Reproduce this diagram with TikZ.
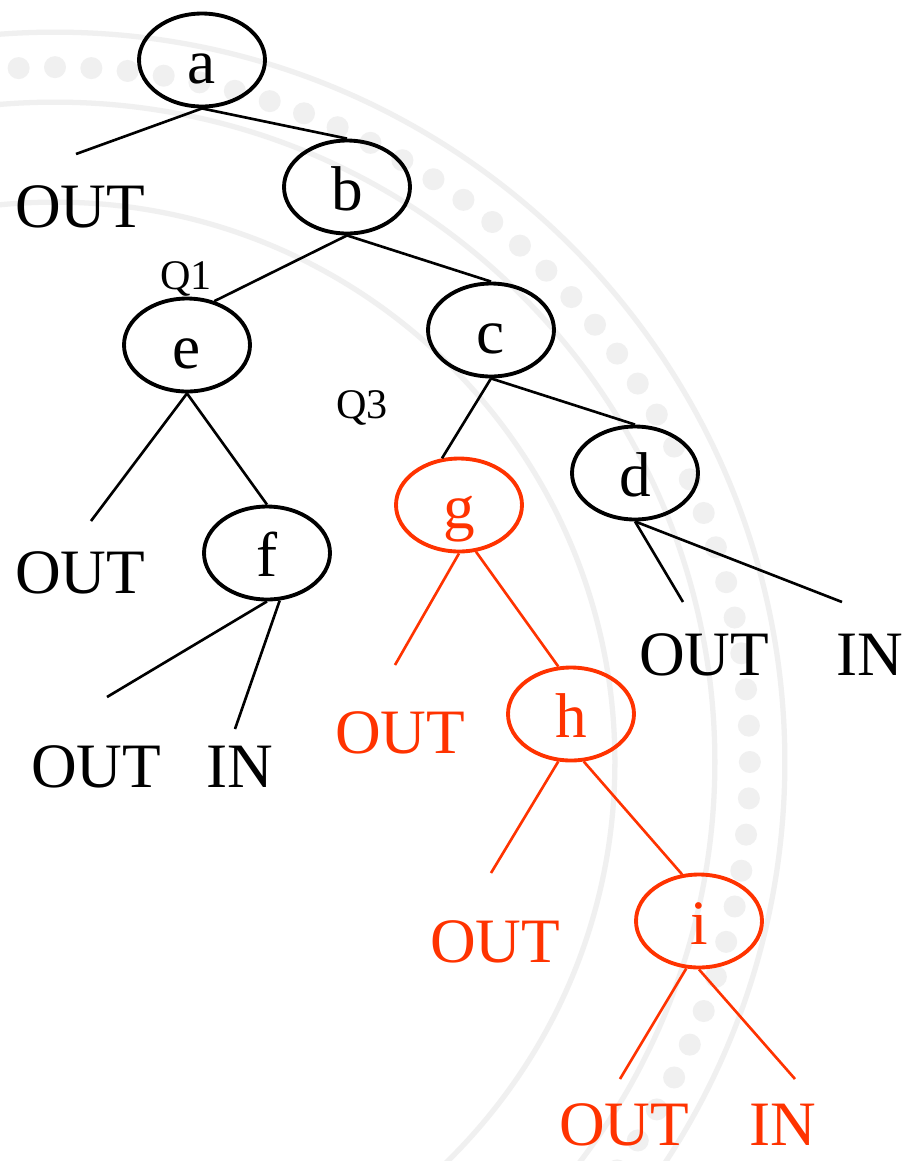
\documentclass[tikz,border=0pt]{standalone}
\usepackage{fontspec}
\setmainfont{Liberation Serif}
\usetikzlibrary{shapes.geometric}
\definecolor{hotred}{RGB}{255,51,0}
\definecolor{sealgray}{RGB}{240,240,240}
\tikzset{vertex/.style={ellipse, draw, line width=2.2pt, minimum width=2.52cm, minimum height=1.86cm,
		inner sep=0pt, font=\fontsize{36}{40}\selectfont, text height=29pt, text depth=2pt},
	leaf/.style={anchor=base, inner sep=0pt, font=\fontsize{36}{40}\selectfont},
	qlabel/.style={anchor=base, inner sep=0pt, font=\fontsize{24}{28}\selectfont},
	branch/.style={line width=1.5pt},
	hot/.style={draw=hotred, text=hotred},
	hotleaf/.style={text=hotred}}

\begin{document}
\begin{tikzpicture}[x=0.02cm, y=-0.02cm]
			\useasboundingbox (0,0) rectangle (907,1161);
			\fill[white] (0,0) rectangle (907,1161);
			% faded seal in the background
			\begin{scope}
				\clip (0,0) rectangle (907,1161);
				\begin{scope}[shift={(55,762)}]
					\draw[sealgray, line width=3pt] (0,0) circle (14.6cm);
					\draw[sealgray, line width=3pt] (0,0) circle (13.2cm);
					\draw[sealgray, line width=3pt] (0,0) circle (11.2cm);
					\foreach \t in {0,3,...,357} \fill[sealgray] (\t:13.9cm) circle (0.22cm);
				\end{scope}
			\end{scope}
			% tree nodes
			\node[vertex] (a) at (202,60) {a};
			\node[vertex] (b) at (347,187) {b};
			\node[vertex] (e) at (187,345) {e};
			\node[vertex] (c) at (491,330) {c};
			\node[vertex] (d) at (635,473) {d};
			\node[vertex] (f) at (267,553) {f};
			\node[vertex,hot] (g) at (459,505) {g};
			\node[vertex,hot] (h) at (571,714) {h};
			\node[vertex,hot] (i) at (699,921) {i};
			\node[qlabel] (q1) at (186,289) {Q1};
			\node[qlabel] (q3) at (362,418) {Q3};
			% leaves
			\node[leaf] (outA) at (80,227) {OUT};
			\node[leaf] (outE) at (80,593) {OUT};
			\node[leaf] (outF) at (96,787) {OUT};
			\node[leaf] (inF) at (240,787) {IN};
			\node[leaf] (outD) at (704,675) {OUT};
			\node[leaf] (inD) at (870,675) {IN};
			\node[leaf,hotleaf] (outG) at (400,753) {OUT};
			\node[leaf,hotleaf] (outH) at (495,962) {OUT};
			\node[leaf,hotleaf] (outI) at (624,1145) {OUT};
			\node[leaf,hotleaf] (inI) at (783,1145) {IN};
			% loose ends of the leaf branches
			\coordinate (endA) at (76,154);
			\coordinate (endE) at (91,521);
			\coordinate (endF1) at (107,697);
			\coordinate (endF2) at (235,729);
			\coordinate (endD1) at (683,602);
			\coordinate (endD2) at (842,602);
			\coordinate (endG) at (395,665);
			\coordinate (endH) at (491,873);
			\coordinate (endI1) at (620,1079);
			\coordinate (endI2) at (795,1079);
			% branches
			\draw[branch] (a.south) -- (endA);
			\draw[branch] (a.south) -- (b.north);
			\draw[branch] (b.south) -- (e.58);
			\draw[branch] (b.south) -- (c.north);
			\draw[branch] (e.south) -- (endE);
			\draw[branch] (e.south) -- (f.north);
			\draw[branch] (c.south) -- (g.110);
			\draw[branch] (c.south) -- (d.north);
			\draw[branch] (f.south) -- (endF1);
			\draw[branch] (f.-75) -- (endF2);
			\draw[branch] (d.south) -- (endD1);
			\draw[branch] (d.south) -- (endD2);
			% red path
			\draw[branch,hotred] (g.south) -- (endG);
			\draw[branch,hotred] (g.-70) -- (h.105);
			\draw[branch,hotred] (h.-105) -- (endH);
			\draw[branch,hotred] (h.-75) -- (i.110);
			\draw[branch,hotred] (i.-105) -- (endI1);
			\draw[branch,hotred] (i.south) -- (endI2);
		\end{tikzpicture}
\end{document}
